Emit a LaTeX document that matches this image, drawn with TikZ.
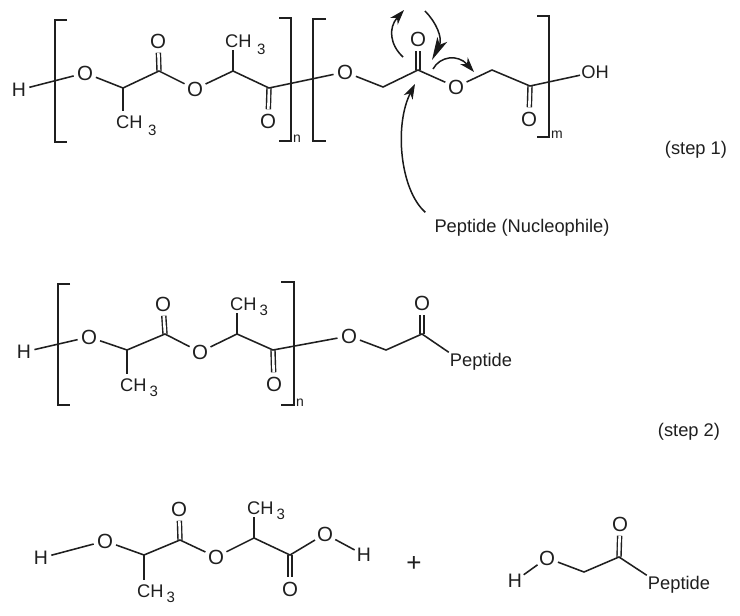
\documentclass[tikz,border=0pt]{standalone}
\usepackage{fontspec}
\setmainfont{Liberation Sans}
\usetikzlibrary{arrows.meta}
\newcommand{\methyl}{CH\kern3pt\raisebox{-5pt}{\fontsize{15}{15}\selectfont 3}}
\newcommand{\methylwide}{CH\kern5.5pt\raisebox{-7pt}{\fontsize{15}{15}\selectfont 3}}
\tikzset{
  ink/.style={draw=black!88,line width=1.55pt},
  atom/.style={circle,inner sep=0pt,minimum size=23pt,text=black!88,font=\fontsize{20.5}{20.5}\selectfont},
  hatom/.style={circle,inner sep=0pt,minimum size=21pt,text=black!88,font=\fontsize{19.5}{19.5}\selectfont},
  label/.style={inner sep=1pt,text=black!88,font=\fontsize{18.3}{18.3}\selectfont},
  methylgrp/.style={label,anchor=base west},
  smalltext/.style={inner sep=0pt,text=black!88,font=\fontsize{14}{14}\selectfont},
  steptext/.style={inner sep=0pt,text=black!88,font=\fontsize{18.3}{18.3}\selectfont},
  bond/.style={ink},
  methylbond/.style={ink,shorten >=3pt},
  dbl/.style={draw=black!88,double=white,double distance=2.6pt,line width=1.4pt},
  brack/.style={ink,line cap=butt},
  push/.style={draw=black!90,line width=1.5pt,-{Stealth[length=15pt,width=10pt,inset=4.5pt]}},
  pushbig/.style={draw=black!90,line width=1.5pt,-{Stealth[length=23pt,width=11pt,inset=6pt]}}
}
\begin{document}
\begin{tikzpicture}[x=1pt,y=-1pt]
\path[use as bounding box,fill=white] (0,0) rectangle (740,616);
% ---------- row 1 ----------
\node[hatom] (aH) at (19,90) {H};
\node[atom] (aO1) at (85,73) {O};
\coordinate (aC1) at (123,88);
\node[methylgrp] (aMe1) at (115,128) {\methylwide};
\coordinate (aC2) at (159,71);
\node[atom] (aO2) at (158,41) {O};
\node[atom] (aO3) at (195,89) {O};
\coordinate (aC3) at (233,71);
\node[methylgrp] (aMe2) at (224,47) {\methylwide};
\coordinate (aC4) at (269,88);
\node[atom] (aO4) at (268,121) {O};
\node[atom] (aO5) at (345,72) {O};
\coordinate (aC5) at (383,87);
\coordinate (aC6) at (418,70);
\node[atom] (aO6) at (418,39) {O};
\node[atom] (aO7) at (456,87) {O};
\coordinate (aC7) at (492,70);
\coordinate (aC8) at (530,86);
\node[atom] (aO8) at (529,119) {O};
\node[label] (aOH) at (595,72) {OH};
\node[smalltext] (an) at (297,139) {n};
\node[smalltext] (am) at (557,135) {m};
\draw[dbl] (aC2) -- (aO2);
\draw[dbl] (aC4) -- (aO4);
\draw[dbl] (aC6) -- (aO6);
\draw[dbl] (aC8) -- (aO8);
\draw[bond] (aH) -- (aO1);
\draw[bond] (aO1) -- (aC1) -- (aC2) -- (aO3) -- (aC3) -- (aC4) -- (aO5) -- (aC5) -- (aC6) -- (aO7) -- (aC7) -- (aC8) -- (aOH);
\draw[methylbond] (aC1) -- (aC1 |- aMe1.north);
\draw[methylbond] (aC3) -- (aC3 |- aMe2.base);
\draw[brack] (67,20) -- (55,20) -- (55,142) -- (67,142);
\draw[brack] (279,18) -- (291,18) -- (291,141) -- (279,141);
\draw[brack] (326,19) -- (313,19) -- (313,141) -- (326,141);
\draw[brack] (537,16) -- (549,16) -- (549,137) -- (537,137);
% mechanism arrows
\coordinate (mA) at (403,57);
\coordinate (mB) at (404,10);
\coordinate (mC) at (425,11);
\coordinate (mD) at (432,60);
\coordinate (mE) at (433,69);
\coordinate (mF) at (474,72);
\draw[push] (mA) .. controls (390,45) and (388,28) .. (mB);
\draw[pushbig] (mC) .. controls (436,22) and (443,38) .. (mD);
\draw[push] (mE) .. controls (440,56) and (458,54) .. (mF);
\node[label] (nuc) at (522,228) {Peptide (Nucleophile)};
\coordinate (mG) at (415,84);
\draw[push] (nuc.north west) ++(-8,-6) .. controls (400,190) and (394,125) .. (mG);
\node[steptext] (s1) at (696,150) {(step 1)};
% ---------- row 2 ----------
\node[hatom] (bH) at (24,352) {H};
\node[atom] (bO1) at (89,337) {O};
\coordinate (bC1) at (127,350);
\node[methylgrp] (bMe1) at (119,391) {\methyl};
\coordinate (bC2) at (165,334);
\node[atom] (bO2) at (163,304) {O};
\node[atom] (bO3) at (200,352) {O};
\coordinate (bC3) at (237,334);
\node[methylgrp] (bMe2) at (229,310) {\methyl};
\coordinate (bC4) at (273,350);
\node[atom] (bO4) at (274,384) {O};
\node[atom] (bO5) at (349,336) {O};
\coordinate (bC5) at (386,350);
\coordinate (bC6) at (422,334);
\node[atom] (bO6) at (422,303) {O};
\node[label] (bP) at (481,362) {Peptide};
\node[smalltext] (bn) at (300,403) {n};
\draw[dbl] (bC2) -- (bO2);
\draw[dbl] (bC4) -- (bO4);
\draw[dbl] (bC6) -- (bO6);
\draw[bond] (bH) -- (bO1);
\draw[bond] (bO1) -- (bC1) -- (bC2) -- (bO3) -- (bC3) -- (bC4) -- (bO5) -- (bC5) -- (bC6) -- (bP.north west);
\draw[methylbond] (bC1) -- (bC1 |- bMe1.north);
\draw[methylbond] (bC3) -- (bC3 |- bMe2.base);
\draw[brack] (70,284) -- (58,284) -- (58,405) -- (70,405);
\draw[brack] (281,282) -- (294,282) -- (294,405) -- (281,405);
\node[steptext] (s2) at (689,432) {(step 2)};
% ---------- row 3 ----------
\node[hatom] (cH) at (41,558) {H};
\node[atom] (cO1) at (105,541) {O};
\coordinate (cC1) at (144,555);
\node[methylgrp] (cMe1) at (136,597) {\methyl};
\coordinate (cC2) at (180,540);
\node[atom] (cO2) at (179,509) {O};
\node[atom] (cO3) at (216,557) {O};
\coordinate (cC3) at (254,538);
\node[methylgrp] (cMe2) at (246,514) {\methyl};
\coordinate (cC4) at (290,555);
\node[atom] (cO4) at (290,589) {O};
\node[atom] (cO5) at (325,534) {O};
\node[hatom] (cH2) at (364,555) {H};
\draw[dbl] (cC2) -- (cO2);
\draw[dbl] (cC4) -- (cO4);
\draw[bond] (cH) -- (cO1);
\draw[bond] (cO1) -- (cC1) -- (cC2) -- (cO3) -- (cC3) -- (cC4) -- (cO5) -- (cH2);
\draw[methylbond] (cC1) -- (cC1 |- cMe1.north);
\draw[methylbond] (cC3) -- (cC3 |- cMe2.base);
\node[label,font=\fontsize{26}{26}\selectfont] (plus) at (414,564) {+};
\node[hatom] (dH) at (515,581) {H};
\node[atom] (dO1) at (547,558) {O};
\coordinate (dC1) at (584,572);
\coordinate (dC2) at (619,557);
\node[atom] (dO2) at (620,524) {O};
\node[label] (dP) at (679,585) {Peptide};
\draw[dbl] (dC2) -- (dO2);
\draw[bond] (dH) -- (dO1);
\draw[bond] (dO1) -- (dC1) -- (dC2) -- (dP.north west);
\end{tikzpicture}
\end{document}
